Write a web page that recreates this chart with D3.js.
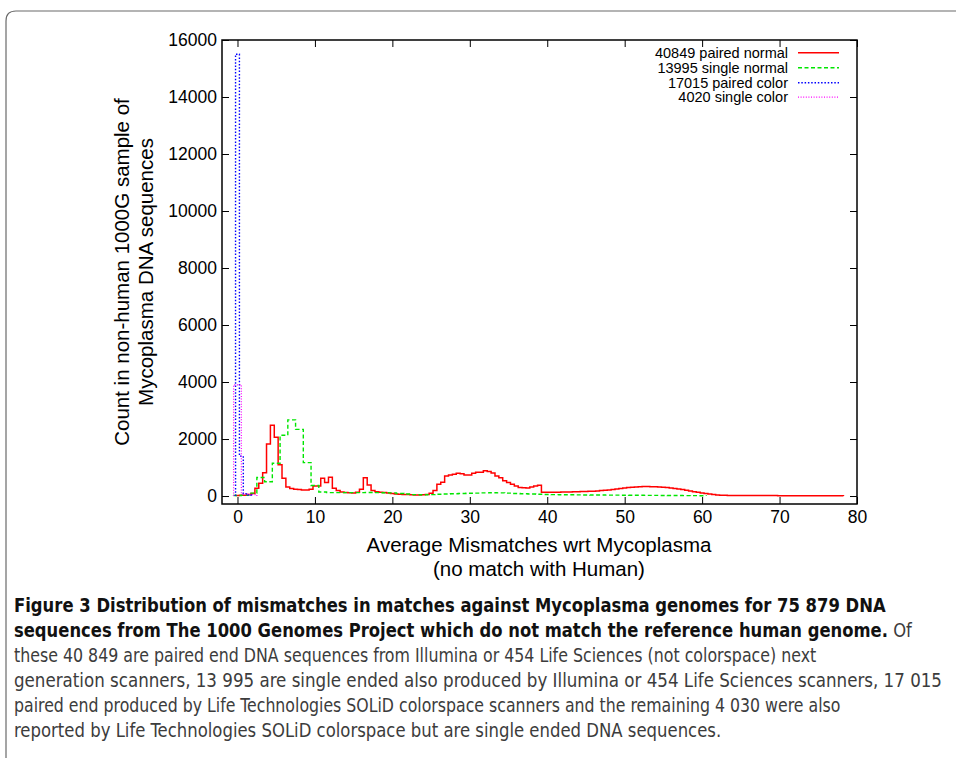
<!DOCTYPE html>
<html>
<head>
<meta charset="utf-8">
<script src="https://cdn.jsdelivr.net/npm/d3@7"></script>
<style>
  html, body { margin: 0; padding: 0; background: #fff; }
  svg { display: block; }
</style>
</head>
<body>
<svg id="chart" width="956" height="758"></svg>
<script>
// ---------------- DATA ----------------
const xTicks = [0, 10, 20, 30, 40, 50, 60, 70, 80];
const yTicks = [0, 2000, 4000, 6000, 8000, 10000, 12000, 14000, 16000];

const seriesNames = ["40849 paired normal", "13995 single normal", "17015 paired color", "4020 single color"];

// paired normal: bins centred at 0, 0.5, 1.0, ... 78.0 (half-integer averages)
const pairedNormalStep = 0.5;
const pairedNormal = [
  20, 25, 30, 50, 90, 270, 445, 820, 1825, 2480,          // 0 - 4.5
  2060, 1100, 620, 320, 260, 240, 225, 215, 210, 235,     // 5 - 9.5
  350, 350, 620, 470, 655, 270, 190, 140, 125, 115,       // 10 - 14.5
  110, 130, 235, 640, 385, 190, 150, 135, 125, 105,       // 15 - 19.5
  85, 70, 60, 55, 50, 45, 40, 38, 42, 55,                 // 20 - 24.5
  95, 190, 410, 480, 700, 735, 760, 795, 780, 740,        // 25 - 29.5
  735, 795, 830, 835, 890, 860, 810, 700, 640, 535,       // 30 - 34.5
  470, 410, 350, 300, 290, 285, 320, 350, 380, 130,       // 35 - 39.5
  130, 130, 135, 135, 140, 140, 145, 150, 150, 155,       // 40 - 44.5
  160, 165, 170, 180, 190, 200, 215, 230, 250, 265,       // 45 - 49.5
  280, 295, 310, 320, 325, 330, 330, 328, 325, 318,       // 50 - 54.5
  310, 300, 285, 265, 245, 225, 200, 175, 150, 130,       // 55 - 59.5
  110, 90, 70, 50, 38, 30, 25, 22, 20, 20,                // 60 - 64.5
  19, 18, 18, 17, 16, 16, 15, 15, 14, 14,                 // 65 - 69.5
  13, 13, 12, 12, 12, 11, 11, 11, 10, 10,                 // 70 - 74.5
  10, 10, 10, 10, 10, 10, 10                              // 75 - 78
];

// single normal: bins centred at integers 0 .. 60
const singleNormalStep = 1;
const singleNormal = [
  20, 30, 100, 650, 500, 1150, 2130, 2670, 2340, 1170,    // 0 - 9
  370, 140, 120, 120, 120, 120, 120, 125, 120, 115,       // 10 - 19
  110, 90, 70, 50, 45, 50, 60, 70, 80, 90,                // 20 - 29
  95, 100, 110, 115, 110, 100, 90, 80, 70, 60,            // 30 - 39
  55, 50, 45, 42, 40, 38, 36, 34, 32, 30,                 // 40 - 49
  28, 26, 25, 24, 22, 20, 18, 16, 15, 14,                 // 50 - 59
  12                                                      // 60
];

// paired color: bins centred at 0, 0.5, 1.0, 1.5
const pairedColorStep = 0.5;
const pairedColor = [15500, 1400, 80, 35];

// single color: bins centred at 0, 1, 2
const singleColorStep = 1;
const singleColor = [3900, 70, 50];

const captionBold1 = "Figure 3 Distribution of mismatches in matches against Mycoplasma genomes for 75 879 DNA";
const captionBold2 = "sequences from The 1000 Genomes Project which do not match the reference human genome.";
const captionTail2 = " Of";
const captionLines = [
  "these 40 849 are paired end DNA sequences from Illumina or 454 Life Sciences (not colorspace) next",
  "generation scanners, 13 995 are single ended also produced by Illumina or 454 Life Sciences scanners, 17 015",
  "paired end produced by Life Technologies SOLiD colorspace scanners and the remaining 4 030 were also",
  "reported by Life Technologies SOLiD colorspace but are single ended DNA sequences."
];

// ---------------- DRAW ----------------
const svg = d3.select("#chart");
const FONT = "'Liberation Sans', Arial, Helvetica, sans-serif";
const CAPFONT = "'Liberation Sans Narrow', 'DejaVu Sans Condensed', 'Open Sans', sans-serif";

svg.append("rect").attr("width", 956).attr("height", 758).attr("fill", "#fff");

// figure border (rounded top-left corner)
svg.append("path")
  .attr("d", "M6,760 L6,21 Q6,11 16,11 L960,11")
  .attr("fill", "none").attr("stroke", "#6a6a6a").attr("stroke-width", 1.2);

const x = d3.scaleLinear().domain([-2, 80]).range([222, 857]);
const y = d3.scaleLinear().domain([-280, 16000]).range([504, 40]);

const plot = svg.append("g");

// axes (ticks inside, mirrored)
const gx = plot.append("g").attr("transform", "translate(0,504)")
  .call(d3.axisBottom(x).tickValues(xTicks).tickSize(-7).tickPadding(7).tickFormat(d3.format("d")));
const gxt = plot.append("g").attr("transform", "translate(0,40)")
  .call(d3.axisTop(x).tickValues(xTicks).tickSize(-7).tickFormat(""));
const gy = plot.append("g").attr("transform", "translate(222,0)")
  .call(d3.axisLeft(y).tickValues(yTicks).tickSize(-7).tickPadding(5).tickFormat(d3.format("d")));
const gyr = plot.append("g").attr("transform", "translate(857,0)")
  .call(d3.axisRight(y).tickValues(yTicks).tickSize(-7).tickFormat(""));

[gx, gxt, gy, gyr].forEach(g => {
  g.select(".domain").remove();
  g.selectAll(".tick line").attr("stroke", "#000").attr("stroke-width", 1);
  g.selectAll("text").attr("font-family", FONT).attr("font-size", 17.5).attr("fill", "#000");
});

// frame
plot.append("rect")
  .attr("x", x(-2)).attr("y", y(16000))
  .attr("width", x(80) - x(-2)).attr("height", y(-280) - y(16000))
  .attr("fill", "none").attr("stroke", "#000").attr("stroke-width", 1.5);

// histogram step paths
function stepPoints(vals, step) {
  const pts = [[-step / 2, 0]];
  vals.forEach((v, i) => {
    const c = i * step;
    pts.push([c - step / 2, v]);
    pts.push([c + step / 2, v]);
  });
  pts.push([(vals.length - 1) * step + step / 2, 0]);
  return pts;
}
const line = d3.line().x(d => x(d[0])).y(d => y(d[1]));

const styles = [
  { vals: pairedNormal, step: pairedNormalStep, color: "#ff0000", width: 1.5, dash: null },
  { vals: singleNormal, step: singleNormalStep, color: "#00e600", width: 1.4, dash: "4,2.5" },
  { vals: pairedColor, step: pairedColorStep, color: "#0000ff", width: 1.4, dash: "1.5,1.8" },
  { vals: singleColor, step: singleColorStep, color: "#ff00ff", width: 1.2, dash: "1,1.6" }
];

svg.append("clipPath").attr("id", "clipPlot").append("rect")
  .attr("x", x(-2)).attr("y", y(16000)).attr("width", x(80) - x(-2)).attr("height", y(-280) - y(16000));

styles.forEach(s => {
  plot.append("path")
    .attr("d", line(stepPoints(s.vals, s.step)))
    .attr("fill", "none")
    .attr("stroke", s.color)
    .attr("stroke-width", s.width)
    .attr("stroke-dasharray", s.dash)
    .attr("stroke-linejoin", "miter")
    .attr("clip-path", "url(#clipPlot)");
});

// legend
const legY = [52.7, 67.7, 82.7, 97.2];
seriesNames.forEach((name, i) => {
  plot.append("text")
    .attr("x", 788).attr("y", legY[i] + 5)
    .attr("text-anchor", "end")
    .attr("font-family", FONT).attr("font-size", 14.5).attr("fill", "#000")
    .text(name);
  plot.append("line")
    .attr("x1", 798).attr("x2", 839).attr("y1", legY[i]).attr("y2", legY[i])
    .attr("stroke", styles[i].color).attr("stroke-width", styles[i].width)
    .attr("stroke-dasharray", styles[i].dash);
});

// axis labels
plot.append("text").attr("x", 539).attr("y", 552).attr("text-anchor", "middle")
  .attr("font-family", FONT).attr("font-size", 20.5).text("Average Mismatches wrt Mycoplasma");
plot.append("text").attr("x", 539).attr("y", 576).attr("text-anchor", "middle")
  .attr("font-family", FONT).attr("font-size", 20.5).text("(no match with Human)");

const yl = plot.append("g").attr("transform", "translate(0,272) rotate(-90)");
yl.append("text").attr("x", 0).attr("y", 129).attr("text-anchor", "middle")
  .attr("font-family", FONT).attr("font-size", 20.5).text("Count in non-human 1000G sample of");
yl.append("text").attr("x", 0).attr("y", 153).attr("text-anchor", "middle")
  .attr("font-family", FONT).attr("font-size", 20.5).text("Mycoplasma DNA sequences");

// caption: each line is horizontally scaled (transform) to match the reference line width
const capX = 14;
function capLine(parts, yy, endX) {
  const t = svg.append("text")
    .attr("x", 0).attr("y", 0)
    .attr("font-family", CAPFONT)
    .attr("font-size", 19)
    .attr("xml:space", "preserve");
  parts.forEach(p => {
    t.append("tspan")
      .attr("font-weight", p.bold ? "bold" : "normal")
      .attr("fill", p.bold ? "#111" : "#3c3c3c")
      .text(p.text);
  });
  const w0 = t.node().getComputedTextLength();
  const sx = (endX - capX) / w0;
  t.attr("transform", `translate(${capX},${yy}) scale(${sx},1)`);
}
capLine([{ text: captionBold1, bold: true }], 612, 886);
capLine([{ text: captionBold2, bold: true }, { text: captionTail2, bold: false }], 637, 912);
const capEnds = [817, 943, 841, 722];
captionLines.forEach((l, i) => capLine([{ text: l, bold: false }], 662 + i * 25, capEnds[i]));
</script>
</body>
</html>
